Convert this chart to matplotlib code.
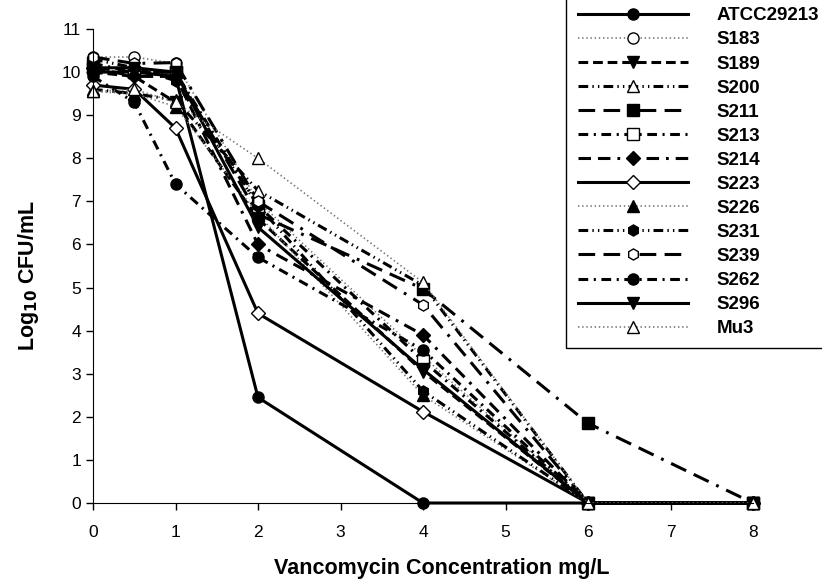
import matplotlib
matplotlib.use("Agg")
import matplotlib.pyplot as plt

plt.rcParams["font.family"] = ["Liberation Sans", "DejaVu Sans"]
plt.rcParams["lines.scale_dashes"] = False

# Vancomycin concentration (mg/L)
conc = [0, 0.5, 1, 2, 4, 6, 8]

strains = ["ATCC29213", "S183", "S189", "S200", "S211", "S213", "S214",
           "S223", "S226", "S231", "S239", "S262", "S296", "Mu3"]

# log10 CFU/mL per strain
atcc29213 = [10.0, 10.0, 9.9, 2.45, 0, 0, 0]
s183 = [10.35, 10.35, 10.2, 7.0, 3.4, 0, 0]
s189 = [10.0, 9.9, 9.3, 6.6, 3.05, 0, 0]
s200 = [9.6, 9.5, 9.35, 7.25, 5.05, 0, 0]
s211 = [10.1, 10.0, 10.0, 6.7, 4.97, 1.85, 0]
s213 = [10.2, 10.0, 10.0, 6.9, 3.3, 0, 0]
s214 = [10.1, 9.9, 9.9, 6.0, 3.9, 0, 0]
s223 = [9.7, 9.6, 8.7, 4.4, 2.12, 0, 0]
s226 = [9.55, 9.5, 9.2, 6.7, 2.5, 0, 0]
s231 = [10.3, 10.1, 9.8, 6.9, 2.6, 0, 0]
s239 = [10.35, 10.2, 10.22, 7.0, 4.6, 0, 0]
s262 = [9.9, 9.3, 7.4, 5.7, 3.55, 0, 0]
s296 = [10.1, 10.1, 10.0, 6.4, 3.1, 0, 0]
mu3 = [9.55, 9.6, 9.3, 8.0, 5.12, 0, 0]

values = [atcc29213, s183, s189, s200, s211, s213, s214,
          s223, s226, s231, s239, s262, s296, mu3]

# (marker, filled, linestyle, colour)
dotted = (0, (1, 2))
long_dash = (0, (12, 6, 12, 6, 2, 6))
styles = [
    ("o", True, "-", "black"),
    ("o", False, dotted, "0.45"),
    ("v", True, (0, (7, 3.5)), "black"),
    ("^", False, (0, (7, 3, 1, 3, 1, 3)), "black"),
    ("s", True, long_dash, "black"),
    ("s", False, (0, (7, 4, 1.5, 4)), "black"),
    ("D", True, (0, (9, 5, 9, 5, 2, 5)), "black"),
    ("D", False, "-", "black"),
    ("^", True, dotted, "0.45"),
    ("h", True, (0, (7, 3, 1, 3, 1, 3)), "black"),
    ("h", False, long_dash, "black"),
    ("o", True, (0, (7, 4, 1.5, 4)), "black"),
    ("v", True, "-", "black"),
    ("^", False, dotted, "0.45"),
]

fig = plt.figure(figsize=(8.22, 5.81), dpi=100)
ax = fig.add_axes([93 / 822, 78 / 581, 660 / 822, 474 / 581])

for name, y, (mk, filled, ls, col) in zip(strains, values, styles):
    ms = 8 if mk != "D" else 7.5
    ax.plot(conc, y, linestyle=ls, color=col, linewidth=2.2 if col == "black" else 1.2,
            marker=mk, markersize=ms,
            markerfacecolor="black" if filled else "white",
            markeredgecolor="black", markeredgewidth=1.0, label=name,
            clip_on=False)

ax.set_xlim(0, 8)
ax.set_ylim(0, 11)
ax.set_xticks(range(0, 9))
ax.set_yticks(range(0, 12))
ax.spines["top"].set_visible(False)
ax.spines["right"].set_visible(False)
ax.tick_params(direction="out", length=5, labelsize=12.5, width=1)
ax.tick_params(axis="x", pad=11)
ax.set_xlabel("Vancomycin Concentration mg/L", fontsize=15.5, fontweight="bold")
ax.xaxis.set_label_coords((442 - 93) / 660, -55 / 474)
ax.set_ylabel("Log$_{\\mathbf{10}}$ CFU/mL", fontsize=15.5, fontweight="bold")
ax.yaxis.set_label_coords(-52 / 660, 0.48)

leg = fig.legend(loc="upper right", bbox_to_anchor=(830 / 822, 585 / 581), fontsize=13.5,
                 handlelength=5.9, labelspacing=0.37, fancybox=False,
                 edgecolor="black", framealpha=1, borderpad=0.6, borderaxespad=0,
                 handletextpad=1.5)
leg.get_frame().set_linewidth(1.0)
for t in leg.get_texts():
    t.set_fontweight("bold")

fig.savefig("out.png", dpi=100)
